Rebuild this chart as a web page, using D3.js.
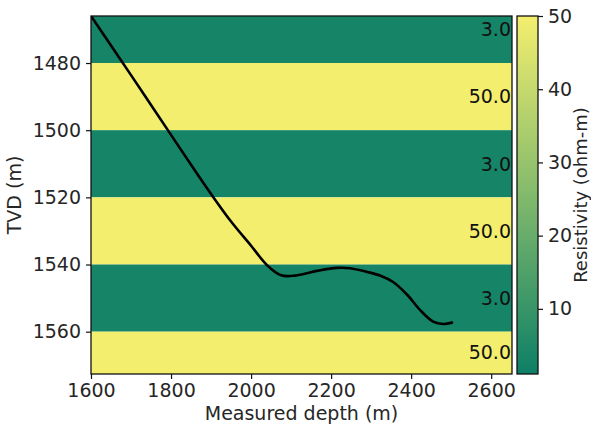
<!DOCTYPE html>
<html>
<head>
<meta charset="utf-8">
<script src="https://cdn.jsdelivr.net/npm/d3@7"></script>
<style>
  html, body { margin: 0; padding: 0; background: #fff; }
  svg { display: block; font-family: "DejaVu Sans", sans-serif; }
</style>
</head>
<body>
<svg id="chart" width="591" height="429"></svg>
<script>
// Layer model: tops/bottoms of each resistivity layer (TVD, m)
const layerTops    = [1460, 1480, 1500, 1520, 1540, 1560];
const layerBottoms = [1480, 1500, 1520, 1540, 1560, 1580];
const layerRes     = [3.0, 50.0, 3.0, 50.0, 3.0, 50.0];
// Depth at which each layer's resistivity label sits
const labelDepths  = [1470, 1490, 1510, 1530, 1550, 1566];

// Well trajectory: measured depth vs TVD
const trajMD  = [1600, 1650, 1700, 1750, 1800, 1850, 1900, 1950, 2000, 2040, 2075, 2110, 2165, 2215, 2247, 2290, 2325, 2355, 2390, 2422, 2455, 2480, 2502];
const trajTVD = [1466, 1474.8, 1483.6, 1492.5, 1501.4, 1510.3, 1519.0, 1527.2, 1534.4, 1540.2, 1543.2, 1543.3, 1541.9, 1541.0, 1541.1, 1542.2, 1543.4, 1545.2, 1549.0, 1553.5, 1557.0, 1557.7, 1557.3];

const xTicks  = [1600, 1800, 2000, 2200, 2400, 2600];
const yTicks  = [1480, 1500, 1520, 1540, 1560];
const cbTicks = [10, 20, 30, 40, 50];

const svg = d3.select("#chart");
const plot = { left: 91, right: 512, top: 16, bottom: 374 };
const cb = { left: 517, right: 538, top: 16, bottom: 374 };
const textColor = "#262626";
const fontSize = 19;

const x = d3.scaleLinear().domain([1600, 2652]).range([plot.left, plot.right]);
const y = d3.scaleLinear().domain([1466, 1572.6]).range([plot.top, plot.bottom]);

// Summer-like colormap
const color = d3.scaleLinear()
  .domain([1.1, 25.5, 50])
  .range(["#0d7f66", "#82ba6c", "#f4ee6e"])
  .interpolate(d3.interpolateRgb);

svg.append("defs").append("clipPath").attr("id", "plotClip")
  .append("rect")
  .attr("x", plot.left).attr("y", plot.top)
  .attr("width", plot.right - plot.left).attr("height", plot.bottom - plot.top);

const g = svg.append("g").attr("clip-path", "url(#plotClip)");

// Layers
g.selectAll("rect.layer")
  .data(layerRes.map((r, i) => ({ r, top: layerTops[i], bot: layerBottoms[i] })))
  .join("rect")
  .attr("class", "layer")
  .attr("x", plot.left)
  .attr("width", plot.right - plot.left)
  .attr("y", d => y(d.top))
  .attr("height", d => y(d.bot) - y(d.top))
  .attr("fill", d => color(d.r));

// Trajectory
const traj = trajMD.map((md, i) => [md, trajTVD[i]]);
g.append("path")
  .datum(traj)
  .attr("fill", "none")
  .attr("stroke", "#000")
  .attr("stroke-width", 2.6)
  .attr("stroke-linejoin", "round")
  .attr("stroke-linecap", "round")
  .attr("d", d3.line().x(d => x(d[0])).y(d => y(d[1])).curve(d3.curveCatmullRom.alpha(0.5)));

// Resistivity labels
g.selectAll("text.res")
  .data(layerRes.map((r, i) => ({ r, d: labelDepths[i] })))
  .join("text")
  .attr("class", "res")
  .attr("x", plot.right - 1)
  .attr("y", d => y(d.d))
  .attr("dy", "0.36em")
  .attr("text-anchor", "end")
  .attr("font-size", fontSize)
  .attr("fill", "#111")
  .text(d => d.r.toFixed(1));

// Frame
svg.append("rect")
  .attr("x", plot.left).attr("y", plot.top)
  .attr("width", plot.right - plot.left).attr("height", plot.bottom - plot.top)
  .attr("fill", "none").attr("stroke", "#111").attr("stroke-width", 1.3);

// Axes
const xAxis = svg.append("g")
  .attr("transform", `translate(0,${plot.bottom})`)
  .call(d3.axisBottom(x).tickValues(xTicks).tickSize(5).tickPadding(5).tickFormat(d3.format("d")));
const yAxis = svg.append("g")
  .attr("transform", `translate(${plot.left},0)`)
  .call(d3.axisLeft(y).tickValues(yTicks).tickSize(5).tickPadding(5).tickFormat(d3.format("d")));
[xAxis, yAxis].forEach(a => {
  a.select(".domain").remove();
  a.selectAll("line").attr("stroke", "#111").attr("stroke-width", 1.2);
  a.selectAll("text").attr("font-size", fontSize).attr("fill", textColor)
    .attr("font-family", "DejaVu Sans, sans-serif");
});

svg.append("text")
  .attr("x", (plot.left + plot.right) / 2).attr("y", 420)
  .attr("text-anchor", "middle").attr("font-size", fontSize).attr("fill", textColor)
  .text("Measured depth (m)");
svg.append("text")
  .attr("transform", `translate(21,${(plot.top + plot.bottom) / 2}) rotate(-90)`)
  .attr("text-anchor", "middle").attr("font-size", fontSize).attr("fill", textColor)
  .text("TVD (m)");

// Colorbar
const cbScale = d3.scaleLinear().domain([1.1, 50]).range([cb.bottom, cb.top]);
const grad = svg.select("defs").append("linearGradient")
  .attr("id", "cbGrad").attr("x1", 0).attr("y1", 1).attr("x2", 0).attr("y2", 0);
d3.range(0, 1.0001, 0.1).forEach(t => {
  const v = 1.1 + t * (50 - 1.1);
  grad.append("stop").attr("offset", t).attr("stop-color", color(v));
});
svg.append("rect")
  .attr("x", cb.left).attr("y", cb.top)
  .attr("width", cb.right - cb.left).attr("height", cb.bottom - cb.top)
  .attr("fill", "url(#cbGrad)").attr("stroke", "#111").attr("stroke-width", 1.3);
const cbAxis = svg.append("g")
  .attr("transform", `translate(${cb.right},0)`)
  .call(d3.axisRight(cbScale).tickValues(cbTicks).tickSize(5).tickPadding(5).tickFormat(d3.format("d")));
cbAxis.select(".domain").remove();
cbAxis.selectAll("line").attr("stroke", "#111").attr("stroke-width", 1.2);
cbAxis.selectAll("text").attr("font-size", fontSize).attr("fill", textColor)
  .attr("font-family", "DejaVu Sans, sans-serif");

svg.append("text")
  .attr("transform", `translate(586.5,${(cb.top + cb.bottom) / 2}) rotate(-90)`)
  .attr("text-anchor", "middle").attr("font-size", 18).attr("fill", textColor)
  .text("Resistivity (ohm-m)");
</script>
</body>
</html>
